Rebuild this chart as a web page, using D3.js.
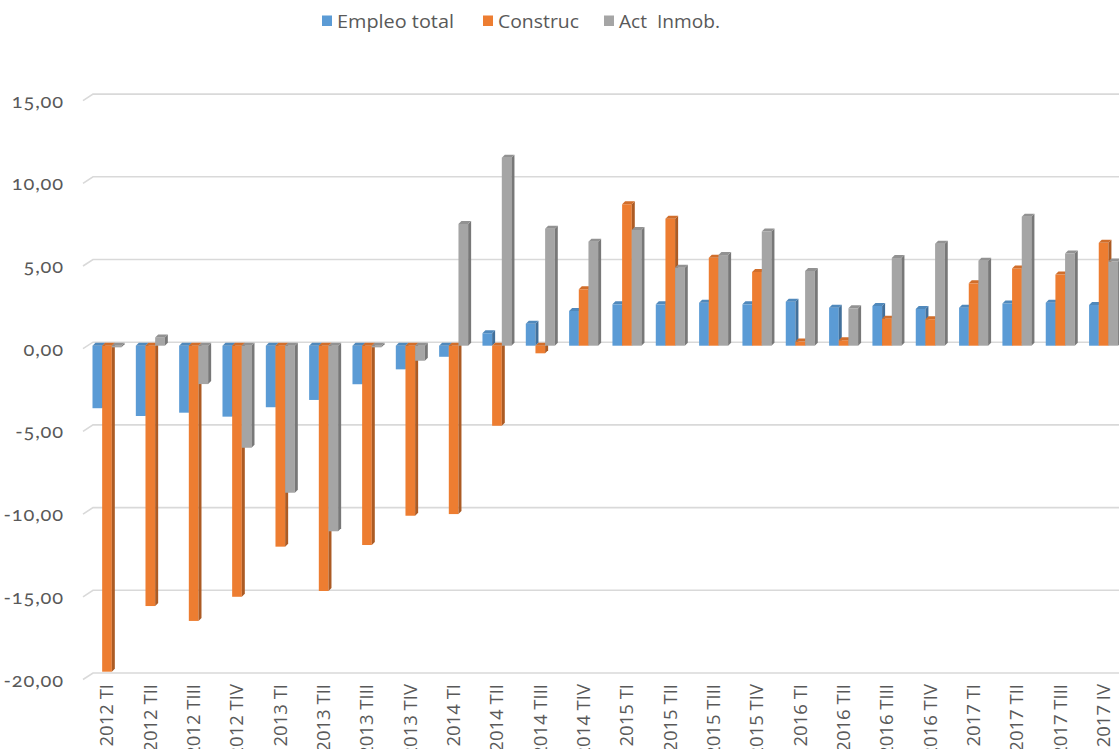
<!DOCTYPE html>
<html><head><meta charset="utf-8">
<script src="https://cdn.jsdelivr.net/npm/d3@7/dist/d3.min.js"></script>
<style>
html,body{margin:0;padding:0;background:#fff;overflow:hidden;}
svg{display:block;}
</style></head>
<body>
<script>
const categories = ["2012 TI","2012 TII","2012 TIII","2012 TIV","2013 TI","2013 TII","2013 TIII","2013 TIV","2014 TI","2014 TII","2014 TIII","2014 TIV","2015 TI","2015 TII","2015 TIII","2015 TIV","2016 TI","2016 TII","2016 TIII","2016 TIV","2017 TI","2017 TII","2017 TIII","2017 IV"];
const empleoTotal = [-3.78,-4.25,-4.05,-4.29,-3.72,-3.28,-2.33,-1.43,-0.67,0.75,1.33,2.10,2.50,2.50,2.60,2.50,2.66,2.30,2.40,2.22,2.30,2.55,2.60,2.46];
const construc = [-19.71,-15.74,-16.64,-15.18,-12.15,-14.83,-12.05,-10.28,-10.18,-4.84,-0.46,3.41,8.55,7.68,5.32,4.46,0.25,0.33,1.63,1.60,3.77,4.67,4.30,6.22];
const actInmob = [-0.10,0.50,-2.32,-6.17,-8.89,-11.22,-0.10,-0.91,7.36,11.37,7.07,6.29,7.00,4.72,5.48,6.90,4.52,2.26,5.30,6.17,5.14,7.80,5.57,5.09];
const seriesNames = ["Empleo total","Construc","Act  Inmob."];
const seriesColors = ["#5B9BD5","#ED7D31","#A5A5A5"];
const yTicks = [15,10,5,0,-5,-10,-15,-20];

const W = 1119, H = 749;
const svg = d3.select("body").append("svg").attr("width", W).attr("height", H);

const y = d3.scaleLinear().domain([-20, 15]).range([676.5, 97.6]);
const x = d3.scaleBand().domain(categories).range([85.33, 85.33 + 43.33*24]).padding(0);
const x1 = d3.scaleBand().domain(seriesNames).range([-14.5, 14.5]).padding(0);
const DX = 3, DY = 3;

const fmt = v => d3.format(".2f")(v).replace(".", ",").replace("−","-");

// gridlines
const g = svg.append("g");
yTicks.forEach(t => {
  const yy = y(t);
  g.append("path")
    .attr("d", `M83,${yy+3} L93,${yy-3.5} L${W},${yy-3.5}`)
    .attr("fill","none").attr("stroke","#D9D9D9").attr("stroke-width",1.6);
  g.append("text").attr("x", 64).attr("y", yy+5)
    .attr("text-anchor","end").attr("dominant-baseline","middle")
    .attr("font-family","Lato, 'Open Sans', sans-serif").attr("font-size",20)
    .attr("letter-spacing",0.9)
    .attr("fill","#595959").style("font-variant-numeric","oldstyle-nums")
    .text(fmt(t));
});

// bars
const values = [empleoTotal, construc, actInmob];
const bars = svg.append("g");
categories.forEach((c, i) => {
  seriesNames.forEach((s, k) => {
    const v = values[k][i];
    const col = d3.color(seriesColors[k]);
    const x0 = x(c) + x.bandwidth()/2 + x1(s);
    const w = x1.bandwidth();
    const yTop = y(Math.max(0, v));
    const yBot = y(Math.min(0, v));
    bars.append("rect").attr("x", x0).attr("y", yTop).attr("width", w).attr("height", Math.max(0.5, yBot - yTop))
      .attr("fill", col.formatHex());
    bars.append("path")
      .attr("d", `M${x0+w},${yTop} L${x0+w+DX},${yTop-DY} L${x0+w+DX},${yBot-DY} L${x0+w},${yBot} Z`)
      .attr("fill", col.darker(0.9).formatHex());
    bars.append("path")
      .attr("d", `M${x0},${yTop} L${x0+DX},${yTop-DY} L${x0+w+DX},${yTop-DY} L${x0+w},${yTop} Z`)
      .attr("fill", col.darker(0.35).formatHex());
  });
});

// category labels
const lab = svg.append("g");
categories.forEach(c => {
  const cx = x(c) + x.bandwidth()/2;
  lab.append("text")
    .attr("transform", `translate(${cx},684) rotate(-90)`)
    .attr("text-anchor","end").attr("dy","0.35em")
    .attr("font-family","'Open Sans', sans-serif").attr("font-size",18.5)
    .attr("fill","#595959").text(c);
});

// legend
const legendX = [322, 483, 604];
const legendW = [117, 81, 101];
const leg = svg.append("g");
seriesNames.forEach((s, k) => {
  leg.append("rect").attr("x", legendX[k]).attr("y", 15.5).attr("width", 10).attr("height", 10.5)
    .attr("fill", seriesColors[k]);
  const t = leg.append("text")
    .attr("font-family","'Open Sans', sans-serif").attr("font-size",18.5)
    .attr("fill","#595959").style("white-space","pre")
    .text(s);
  const nat = t.node().getComputedTextLength() || legendW[k];
  const sx = legendW[k] / nat;
  t.attr("transform", `translate(${legendX[k] + 15},27.5) scale(${sx},1)`);
});
</script>
</body></html>
